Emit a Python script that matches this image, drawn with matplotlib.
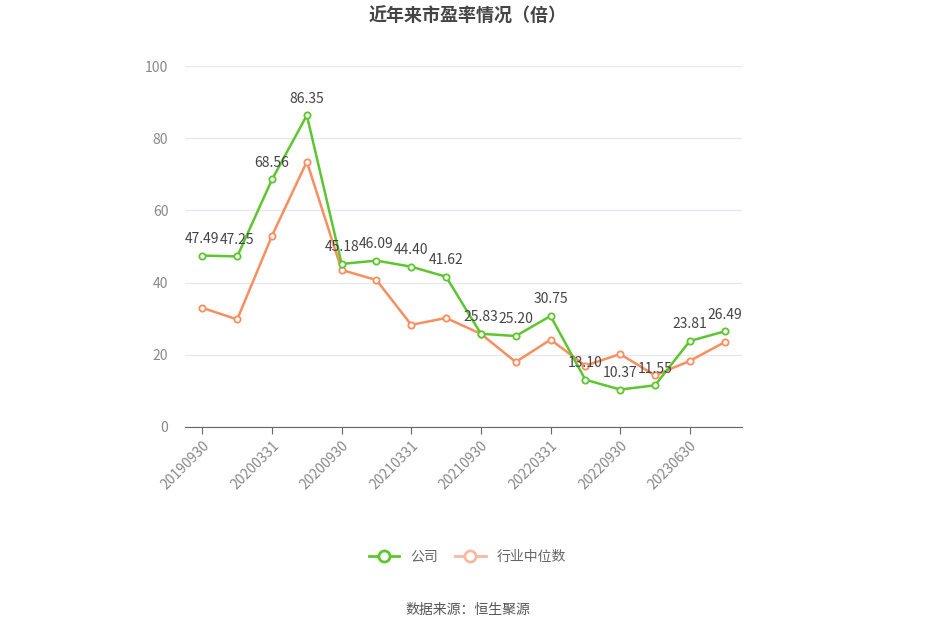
import matplotlib
matplotlib.use('Agg')
import matplotlib.pyplot as plt
from matplotlib.lines import Line2D

plt.rcParams['font.family'] = 'Noto Sans CJK SC'

dates = ['20190930', '20191231', '20200331', '20200630', '20200930', '20201231',
         '20210331', '20210630', '20210930', '20211231', '20220331', '20220630',
         '20220930', '20221231', '20230630', '20230930']
company = [47.49, 47.25, 68.56, 86.35, 45.18, 46.09, 44.40, 41.62, 25.83, 25.20,
           30.75, 13.10, 10.37, 11.55, 23.81, 26.49]
industry = [33.0, 29.8, 53.0, 73.5, 43.5, 40.7, 28.3, 30.2, 25.8, 18.0,
            24.2, 17.0, 20.2, 14.3, 18.3, 23.5]

green = '#5dc62e'
orange = '#f98e5e'

fig = plt.figure(figsize=(9.35, 6.32), dpi=100)
ax = fig.add_axes([185/935, 1-427/632, (742-185)/935, (427-66)/632])
x = list(range(len(dates)))
ax.plot(x, industry, color=orange, lw=1.8, marker='o', ms=4.5, mfc='white', mec=orange, mew=1.3)
ax.plot(x, company, color=green, lw=1.8, marker='o', ms=4.5, mfc='white', mec=green, mew=1.3)
for xi, v in zip(x, company):
    ax.annotate('%.2f' % v, (xi, v), xytext=(0, 7), textcoords='offset points',
                ha='center', va='bottom', fontsize=10, color='#444444')

ax.set_xlim(-0.5, len(dates) - 0.5)
ax.set_ylim(0, 100)
ax.set_yticks(range(0, 101, 20))
ax.set_xticks(x[::2])
ax.set_xticklabels(dates[::2], rotation=45, ha='right', rotation_mode='anchor')
ax.grid(axis='y', color='#e6e9ef', lw=1)
ax.set_axisbelow(True)
for s in ['top', 'right', 'left']:
    ax.spines[s].set_visible(False)
ax.spines['bottom'].set_color('#666666')
ax.tick_params(axis='y', length=0, colors='#888888', labelsize=10, pad=12)
ax.tick_params(axis='x', colors='#888888', labelsize=10, length=5)
ax.tick_params(axis='x', color='#666666')

fig.text(0.5, 0.975, '近年来市盈率情况（倍）', ha='center', va='center',
         fontsize=13, fontweight='bold', color='#444444')
handles = [Line2D([], [], color=green, lw=2, marker='o', ms=8, mfc='white', mec=green, mew=2),
           Line2D([], [], color='#f9b8a0', lw=2, marker='o', ms=8, mfc='white', mec='#f9b8a0', mew=2)]
fig.legend(handles, ['公司', '行业中位数'], loc='center', bbox_to_anchor=(0.5, 1-557/632),
           ncol=2, frameon=False, fontsize=10, labelcolor='#666666', handlelength=2.2,
           columnspacing=1.2)
fig.text(0.5, 1-610/632, '数据来源：恒生聚源', ha='center', va='center', fontsize=10, color='#555555')

fig.savefig('out.png', dpi=100)
